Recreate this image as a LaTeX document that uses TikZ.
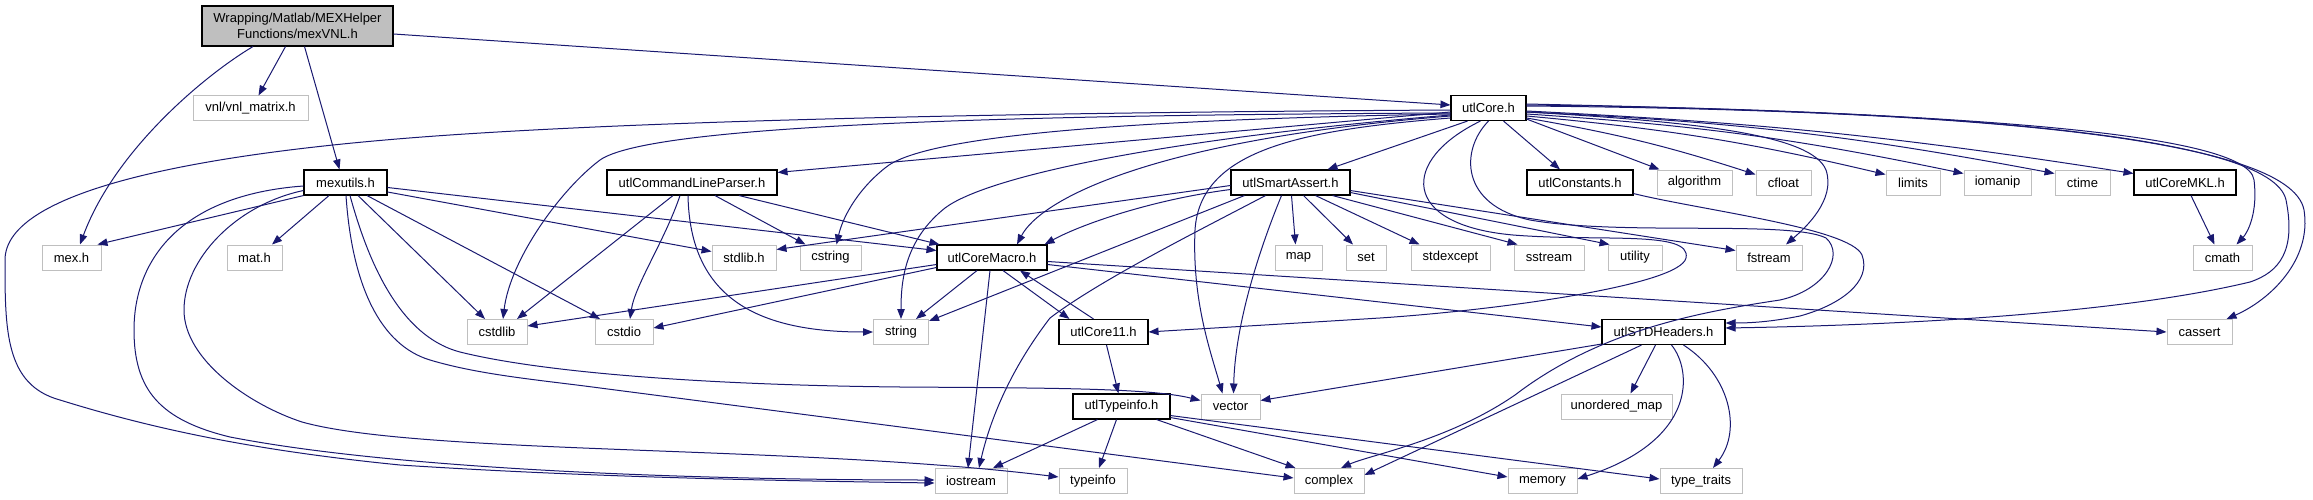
\documentclass[tikz,border=0pt]{standalone}
\usepackage{fontspec}
\setmainfont{Liberation Sans}
\usetikzlibrary{arrows.meta}
\definecolor{edgec}{RGB}{25,25,112}
\definecolor{sysc}{RGB}{191,191,191}
\definecolor{rootfill}{RGB}{191,191,191}
\begin{document}
\begin{tikzpicture}[x=1pt,y=-1pt,
 every node/.style={font=\fontsize{13}{16}\selectfont, inner sep=0pt, minimum height=25pt, fill=white},
 sys/.style={draw=sysc, line width=1pt},
 proj/.style={draw=black, line width=1.1pt},
 root/.style={draw=black, line width=1.1pt, fill=rootfill, align=center, minimum height=40pt},
 e/.style={draw=edgec, line width=1pt, -{Triangle[length=10pt,width=7.5pt]}},
]
\useasboundingbox (0,0) rectangle (2313,500);
% nodes
\node[root, minimum width=191pt] (root) at (297.5,26) {Wrapping/Matlab/MEXHelper\\Functions/mexVNL.h};
\node[sys, minimum width=115pt] (vnl) at (250.5,108.5) {vnl/vnl\_matrix.h};
\node[proj, minimum width=83pt] (mexutils) at (345.5,182.5) {mexutils.h};
\node[sys, minimum width=59pt] (mexh) at (71.5,257.5) {mex.h};
\node[sys, minimum width=55pt] (math) at (254.5,257.5) {mat.h};
\node[sys, minimum width=60pt] (cstdlib) at (497,332) {cstdlib};
\node[sys, minimum width=58pt] (cstdio) at (624,332) {cstdio};
\node[proj, minimum width=170pt] (ucl) at (692,182.5) {utlCommandLineParser.h};
\node[sys, minimum width=64pt] (stdlibh) at (744,257.5) {stdlib.h};
\node[sys, minimum width=61pt] (cstring) at (830.5,257.5) {cstring};
\node[proj, minimum width=110pt] (macro) at (992,257.5) {utlCoreMacro.h};
\node[sys, minimum width=55pt] (string) at (901,332) {string};
\node[proj, minimum width=89pt] (core11) at (1103.5,332) {utlCore11.h};
\node[proj, minimum width=97pt] (tinfoh) at (1121.5,406.5) {utlTypeinfo.h};
\node[sys, minimum width=72pt] (iostream) at (971,481) {iostream};
\node[sys, minimum width=68pt] (typeinfo) at (1093,481) {typeinfo};
\node[proj, minimum width=75pt] (core) at (1488.5,108) {utlCore.h};
\node[proj, minimum width=119pt] (smart) at (1290.5,182.5) {utlSmartAssert.h};
\node[proj, minimum width=106pt] (const) at (1580,182.5) {utlConstants.h};
\node[sys, minimum width=75pt] (algorithm) at (1694.5,182.5) {algorithm};
\node[sys, minimum width=47pt] (map) at (1298.5,257.5) {map};
\node[sys, minimum width=40pt] (set) at (1366,257.5) {set};
\node[sys, minimum width=79pt] (stdexcept) at (1450.5,257.5) {stdexcept};
\node[sys, minimum width=70pt] (sstream) at (1549,257.5) {sstream};
\node[sys, minimum width=54pt] (utility) at (1635,257.5) {utility};
\node[sys, minimum width=66pt] (fstream) at (1769,257.5) {fstream};
\node[sys, minimum width=55pt] (cfloat) at (1783.5,182.5) {cfloat};
\node[sys, minimum width=54pt] (limits) at (1913,182.5) {limits};
\node[sys, minimum width=67pt] (iomanip) at (1997.5,182.5) {iomanip};
\node[sys, minimum width=55pt] (ctime) at (2082.5,182.5) {ctime};
\node[proj, minimum width=102pt] (mkl) at (2185,182.5) {utlCoreMKL.h};
\node[sys, minimum width=59pt] (cmath) at (2222.5,257.5) {cmath};
\node[sys, minimum width=65pt] (cassert) at (2199.5,332) {cassert};
\node[sys, minimum width=59pt] (vector) at (1230.5,406.5) {vector};
\node[proj, minimum width=123pt] (stdh) at (1663.5,332) {utlSTDHeaders.h};
\node[sys, minimum width=111pt] (umap) at (1616.5,406.5) {unordered\_map};
\node[sys, minimum width=70pt] (complex) at (1329,481) {complex};
\node[sys, minimum width=69pt] (memory) at (1542.5,481) {memory};
\node[sys, minimum width=82pt] (traits) at (1701,481) {type\_traits};
% root edges
\draw[e] ([shift={(-44.5,0)}]root.south) .. controls (205,75) and (115,150) .. ([shift={(8.5,0)}]mexh.north);
\draw[e] ([shift={(-12,0)}]root.south) -- ([shift={(8,0)}]vnl.north);
\draw[e] ([shift={(7,0)}]root.south) -- ([shift={(-6,0)}]mexutils.north);
\draw[e] ([shift={(0,8)}]root.east) -- ([shift={(0,-3)}]core.west);
% mexutils edges
\draw[e] (mexutils.south west) -- ([shift={(-4,0)}]mexh.north east);
\draw[e] ([shift={(-16.5,0)}]mexutils.south) -- ([shift={(17.5,0)}]math.north);
\draw[e] ([shift={(12.5,0)}]mexutils.south) -- ([shift={(-12,0)}]cstdlib.north);
\draw[e] ([shift={(21.5,0)}]mexutils.south) -- ([shift={(-24,0)}]cstdio.north);
\draw[e] ([shift={(0,9.5)}]mexutils.east) -- ([shift={(0,-6)}]stdlibh.west);
\draw[e] ([shift={(0,5)}]mexutils.east) -- ([shift={(0,-7)}]macro.west);
\draw[e] ([shift={(0,3.5)}]mexutils.west) .. controls (180,195) and (134,260) .. (134,330) .. controls (134,390) and (160,420) .. (230,437) .. controls (400,470) and (700,480) .. ([shift={(0,-1)}]iostream.west);
\draw[e] ([shift={(0,8)}]mexutils.west) .. controls (235,205) and (184,260) .. (184,310) .. controls (184,360) and (250,405) .. (302,422) .. controls (420,455) and (800,445) .. ([shift={(0,-4)}]typeinfo.west);
\draw[e] ([shift={(4.5,0)}]mexutils.south) .. controls (365,250) and (395,335) .. (460,352) .. controls (540,372) and (700,385) .. (900,387) .. controls (1050,388) and (1150,388) .. ([shift={(0,-6)}]vector.west);
\draw[e] ([shift={(0.5,0)}]mexutils.south) .. controls (352,285) and (380,345) .. (430,360) .. controls (480,375) and (540,380) .. (600,388) -- ([shift={(0,-3)}]complex.west);
% utlCommandLineParser
\draw[e] ([shift={(0,4)}]core.west) -- ([shift={(0,3)}]ucl.north east);
\draw[e] ([shift={(-19,0)}]ucl.south) -- ([shift={(20,0)}]cstdlib.north);
\draw[e] ([shift={(-12,0)}]ucl.south) .. controls (665,240) and (635,285) .. ([shift={(6,0)}]cstdio.north);
\draw[e] ([shift={(-4,0)}]ucl.south) .. controls (690,300) and (760,332) .. (string.west);
\draw[e] ([shift={(23,0)}]ucl.south) -- ([shift={(-25,0)}]cstring.north);
\draw[e] ([shift={(47,0)}]ucl.south) -- ([shift={(3,0)}]macro.north west);
% utlCoreMacro
\draw[e] ([shift={(0,7)}]macro.west) -- ([shift={(0,-6)}]cstdlib.east);
\draw[e] ([shift={(0,10)}]macro.west) -- ([shift={(0,-4)}]cstdio.east);
\draw[e] ([shift={(-15,0)}]macro.south) -- ([shift={(15,0)}]string.north);
\draw[e] ([shift={(-2,0)}]macro.south) -- ([shift={(-3,0)}]iostream.north);
\draw[e] ([shift={(11,0)}]macro.south) -- ([shift={(11,0)}]core11.north west);
\draw[e] ([shift={(-10,0)}]core11.north) -- ([shift={(28,0)}]macro.south);
\draw[e] ([shift={(0,7)}]macro.east) -- ([shift={(0,-5)}]stdh.west);
\draw[e] ([shift={(0,4)}]macro.east) -- (cassert.west);
% utlCore11, utlTypeinfo
\draw[e] ([shift={(3,0)}]core11.south) -- ([shift={(-3,0)}]tinfoh.north);
\draw[e] ([shift={(-24,0)}]tinfoh.south) -- ([shift={(22,0)}]iostream.north);
\draw[e] ([shift={(-5,0)}]tinfoh.south) -- ([shift={(6,0)}]typeinfo.north);
\draw[e] ([shift={(-14,0)}]tinfoh.south east) -- ([shift={(2,0)}]complex.north west);
\draw[e] ([shift={(0,-2)}]tinfoh.south east) -- ([shift={(0,-4)}]memory.west);
\draw[e] ([shift={(0,-4)}]tinfoh.south east) -- ([shift={(0,-2)}]traits.west);
% utlSTDHeaders
\draw[e] ([shift={(0,-1)}]stdh.south west) -- ([shift={(0,-6)}]vector.east);
\draw[e] ([shift={(-8,0)}]stdh.south) -- ([shift={(14,0)}]umap.north);
\draw[e] ([shift={(-22,0)}]stdh.south) -- ([shift={(0,-6)}]complex.east);
\draw[e] ([shift={(8,0)}]stdh.south) .. controls (1692,370) and (1698,440) .. ([shift={(0,-2)}]memory.east);
\draw[e] ([shift={(20,0)}]stdh.south) .. controls (1730,375) and (1742,430) .. ([shift={(12,0)}]traits.north);
% utlSmartAssert
\draw[e] ([shift={(-21,0)}]core.south) -- ([shift={(37,0)}]smart.north);
\draw[e] ([shift={(0,3)}]smart.west) -- ([shift={(0,-8)}]stdlibh.east);
\draw[e] ([shift={(0,7)}]smart.west) .. controls (1150,200) and (1080,225) .. ([shift={(-3,0)}]macro.north east);
\draw[e] ([shift={(14,0)}]smart.south west) -- ([shift={(0,2)}]string.north east);
\draw[e] ([shift={(-25,0)}]smart.south) .. controls (1200,230) and (1100,280) .. (1050,318) .. controls (1010,370) and (990,420) .. ([shift={(8,0)}]iostream.north);
\draw[e] ([shift={(-9,0)}]smart.south) .. controls (1255,260) and (1235,330) .. ([shift={(3,0)}]vector.north);
\draw[e] ([shift={(1,0)}]smart.south) -- ([shift={(-3,0)}]map.north);
\draw[e] ([shift={(13,0)}]smart.south) -- ([shift={(-13,0)}]set.north);
\draw[e] ([shift={(25,0)}]smart.south) -- ([shift={(-31,0)}]stdexcept.north);
\draw[e] ([shift={(-18,0)}]smart.south east) -- ([shift={(4,0)}]sstream.north west);
\draw[e] ([shift={(0,-3)}]smart.south east) -- ([shift={(2,0)}]utility.north west);
\draw[e] ([shift={(0,-5)}]smart.south east) -- ([shift={(0,-7)}]fstream.west);
% utlCore
\draw[e] ([shift={(0,2)}]core.west) .. controls (1100,112) and (700,118) .. (450,135) .. controls (200,152) and (5,190) .. (5,260) .. controls (5,330) and (5,385) .. (60,400) .. controls (150,428) and (250,450) .. (400,465) .. controls (600,478) and (800,481) .. ([shift={(0,2)}]iostream.west);
\draw[e] ([shift={(0,5)}]core.west) .. controls (1000,115) and (650,125) .. (600,160) .. controls (560,190) and (510,260) .. ([shift={(6,0)}]cstdlib.north);
\draw[e] ([shift={(0,6)}]core.west) .. controls (1100,120) and (920,138) .. (885,168) .. controls (855,192) and (842,220) .. ([shift={(6,0)}]cstring.north);
\draw[e] ([shift={(0,7)}]core.west) .. controls (1150,140) and (985,178) .. (945,208) .. controls (905,240) and (901,280) .. (string.north);
\draw[e] ([shift={(0,8)}]core.west) .. controls (1150,140) and (1040,200) .. ([shift={(25,0)}]macro.north);
\draw[e] ([shift={(0,10)}]core.west) .. controls (1300,130) and (1200,150) .. (1195,230) .. controls (1192,300) and (1210,350) .. ([shift={(-8,0)}]vector.north);
\draw[e] ([shift={(15,0)}]core.south) -- ([shift={(-20,0)}]const.north);
\draw[e] ([shift={(0,-2)}]core.south east) -- ([shift={(3,0)}]algorithm.north west);
\draw[e] ([shift={(0,10)}]core.east) to[bend left=4] ([shift={(0,-8)}]cfloat.west);
\draw[e] ([shift={(0,8)}]core.east) to[bend left=4] ([shift={(0,-8)}]limits.west);
\draw[e] ([shift={(0,6)}]core.east) to[bend left=4] ([shift={(0,-9)}]iomanip.west);
\draw[e] ([shift={(0,4)}]core.east) to[bend left=4] ([shift={(0,-9)}]ctime.west);
\draw[e] ([shift={(0,3)}]core.east) to[bend left=3] ([shift={(0,-9)}]mkl.west);
\draw[e] ([shift={(0,-4)}]core.east) .. controls (1900,112) and (2248,128) .. (2254,180) .. controls (2258,212) and (2248,232) .. ([shift={(14,0)}]cmath.north);
\draw[e] ([shift={(0,-3)}]core.east) .. controls (1950,110) and (2272,135) .. (2286,200) .. controls (2296,250) and (2280,272) .. (2250,282) .. controls (2100,318) and (1850,326) .. ([shift={(0,-4)}]stdh.east);
\draw[e] ([shift={(0,-2)}]core.east) .. controls (1950,110) and (2290,135) .. (2304,210) .. controls (2312,260) and (2270,300) .. ([shift={(-6,0)}]cassert.north east);
\draw[e] ([shift={(0,4)}]core.east) .. controls (1700,122) and (1812,135) .. (1826,170) .. controls (1836,200) and (1805,228) .. ([shift={(17,0)}]fstream.north);
\draw[e] ([shift={(-8,0)}]core.south) .. controls (1400,160) and (1400,225) .. (1513,235) .. controls (1600,242) and (1692,230) .. (1686,258) .. controls (1680,285) and (1500,310) .. (1380,318) .. controls (1250,326) and (1180,330) .. (core11.east);
\draw[e] (core.south) .. controls (1460,150) and (1460,205) .. (1530,220) .. controls (1620,236) and (1790,220) .. (1826,238) .. controls (1845,255) and (1825,290) .. (1780,300) .. controls (1700,312) and (1600,330) .. (1515,395) .. controls (1450,440) and (1370,455) .. ([shift={(12,0)}]complex.north);
% utlConstants, utlCoreMKL
\draw[e] ([shift={(0,-2)}]const.south east) .. controls (1700,210) and (1850,228) .. (1862,255) .. controls (1872,282) and (1840,305) .. (1800,316) .. controls (1770,322) and (1750,323) .. ([shift={(0,-9)}]stdh.east);
\draw[e] ([shift={(6,0)}]mkl.south) -- ([shift={(-8,0)}]cmath.north);
\end{tikzpicture}
\end{document}
